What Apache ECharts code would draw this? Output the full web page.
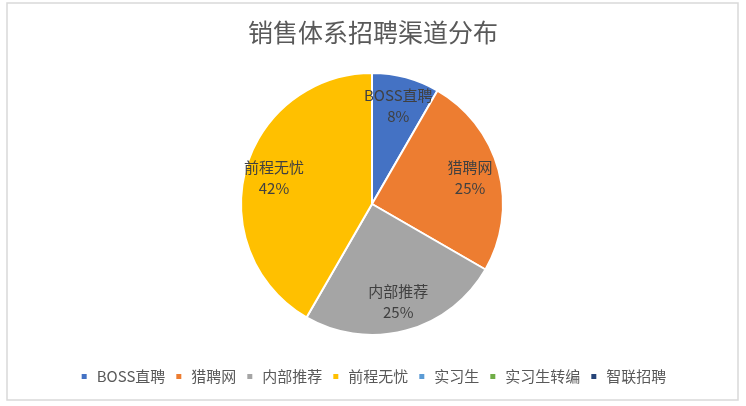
<!DOCTYPE html>
<html>
<head>
<meta charset="utf-8">
<script src="https://cdn.jsdelivr.net/npm/echarts@6/dist/echarts.min.js"></script>
<style>
html,body{margin:0;padding:0;background:#fff;}
#chart{width:746px;height:406px;}
</style>
</head>
<body>
<div id="chart"></div>
<script>
const titleText = '销售体系招聘渠道分布';
const categories = ['BOSS直聘', '猎聘网', '内部推荐', '前程无忧', '实习生', '实习生转编', '智联招聘'];
const values = [1, 3, 3, 5, 0, 0, 0];
const colors = ['#4472C4', '#ED7D31', '#A5A5A5', '#FFC000', '#5B9BD5', '#70AD47', '#264478'];

const font = '"Noto Sans CJK SC", "Noto Sans", sans-serif';
const center = [372, 204];
const R = 131;

const pieData = categories.map((c, i) => ({ name: c, value: values[i] }));
const labelData = categories.map((c, i) => ({
  name: c, value: values[i], label: { show: values[i] > 0 }
}));

const chart = echarts.init(document.getElementById('chart'), null, { renderer: 'canvas' });
chart.setOption({
  animation: false,
  color: colors,
  title: {
    text: titleText,
    left: 'center',
    top: 15,
    textStyle: { fontFamily: font, fontSize: 25, fontWeight: 'normal', color: '#595959' }
  },
  legend: {
    data: categories,
    left: 'center',
    top: 364,
    icon: 'rect',
    itemWidth: 7,
    itemHeight: 7,
    itemGap: 9,
    textStyle: { fontFamily: font, fontSize: 15, color: '#595959', padding: [0, 0, 0, 4] }
  },
  graphic: [{
    type: 'rect',
    shape: { x: 7, y: 3, width: 731, height: 397 },
    style: { fill: 'none', stroke: '#d9d9d9', lineWidth: 1.5 },
    silent: true,
    z: -1
  }],
  series: [
    {
      type: 'pie',
      name: 'main',
      center: center,
      radius: [0, R],
      startAngle: 90,
      clockwise: true,
      avoidLabelOverlap: false,
      percentPrecision: 0,
      itemStyle: { borderColor: '#ffffff', borderWidth: 2 },
      label: { show: false },
      labelLine: { show: false },
      emphasis: { disabled: true },
      data: pieData
    },
    {
      type: 'pie',
      name: 'labels',
      center: center,
      radius: [66, R],
      startAngle: 90,
      clockwise: true,
      silent: true,
      avoidLabelOverlap: false,
      percentPrecision: 0,
      legendHoverLink: false,
      itemStyle: { color: 'rgba(0,0,0,0)', borderWidth: 0 },
      label: {
        show: true,
        position: 'inside',
        formatter: '{b}\n{d}%',
        fontFamily: font,
        fontSize: 15,
        lineHeight: 21,
        color: '#404040'
      },
      labelLine: { show: false },
      emphasis: { disabled: true },
      data: labelData
    }
  ]
});
</script>
</body>
</html>
